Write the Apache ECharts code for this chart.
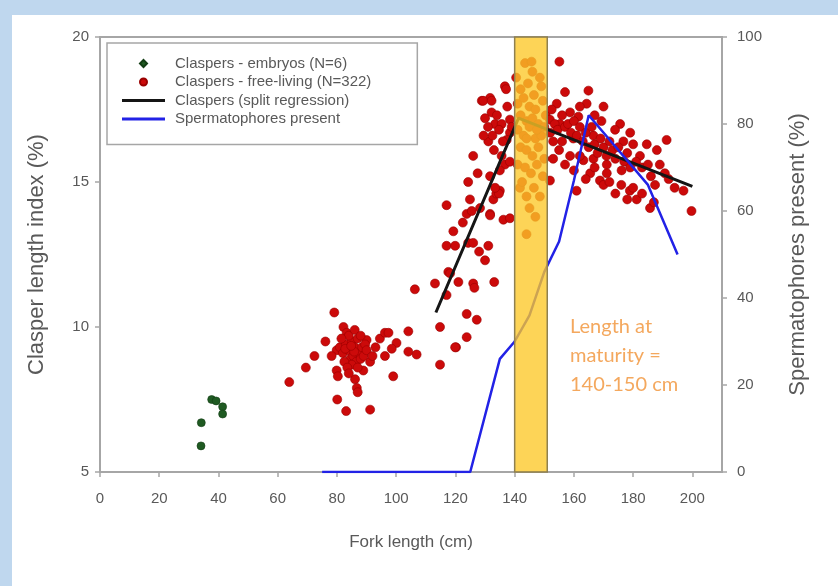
<!DOCTYPE html>
<html>
<head>
<meta charset="utf-8">
<script src="https://cdn.jsdelivr.net/npm/echarts@6/dist/echarts.min.js"></script>
<style>
  html, body { margin: 0; padding: 0; background: #bfd7ee; }
  #chart { width: 838px; height: 586px; }
</style>
</head>
<body>
<div id="chart"></div>
<script>
// fork length (cm), clasper length index (%)
var embryos = [[34.2, 6.7], [34.1, 5.9], [37.7, 7.5], [39.2, 7.45], [41.4, 7.25], [41.4, 7.0]];

var freeLiving = [
  // 60-120 cm
  [63.9, 8.1], [69.5, 8.6], [72.4, 9.0], [76.1, 9.5], [79.1, 10.5], [82.2, 10.0], [83.3, 9.8], [79.9, 9.2],
  [78.2, 9.0], [79.9, 8.5], [80.3, 8.3], [80.1, 7.5], [83.1, 7.1], [91.2, 7.15], [86.1, 8.2], [86.7, 7.9],
  [87.0, 7.75], [88.9, 8.5], [90.0, 9.55], [91.2, 8.8],
  [81, 9.3], [82, 9.1], [83, 9.4], [84, 9.2], [84.5, 8.9], [85, 9.5], [85.5, 9.0], [86, 9.3], [86.5, 8.8],
  [87, 9.6], [87.5, 9.1], [88, 8.9], [88.5, 9.3], [89, 9.0], [84, 9.7], [85, 8.7], [86, 9.9], [82.5, 8.8],
  [83.5, 8.6], [89.5, 9.4], [81.5, 9.6], [87, 8.6], [84, 8.4], [88, 9.7], [90, 9.2], [82.8, 9.25],
  [85.8, 9.15], [84.8, 9.35],
  [92, 9.0], [93, 9.3], [94.5, 9.6], [96.2, 9.8], [97.4, 9.8], [104.1, 9.85], [100.1, 9.45], [98.5, 9.25],
  [96.2, 9.0], [104.1, 9.15], [106.9, 9.05], [99.0, 8.3], [106.3, 11.3], [113.1, 11.5], [114.8, 10.0],
  [120.2, 9.3], [114.8, 8.7],
  // 113-140 cm
  [124.3, 15.0], [117.0, 14.2], [124.9, 14.4], [123.8, 13.9], [119.3, 13.3], [117.0, 12.8], [119.9, 12.8],
  [124.3, 12.9], [126.0, 12.9], [131.1, 12.8], [130.0, 12.3], [117.6, 11.9], [121.0, 11.55], [126.0, 11.5],
  [126.4, 11.35], [133.1, 11.55], [117.0, 11.1], [123.8, 10.45], [127.2, 10.25], [123.8, 9.65], [119.9, 9.3],
  [118.2, 11.85],
  [131.7, 13.9], [132.8, 14.4], [135.0, 14.7], [136.2, 13.7], [138.4, 13.75], [133.8, 14.6], [128.3, 14.1],
  [131.7, 13.85], [134.7, 14.6],
  [136.7, 18.3], [128.9, 17.8], [131.7, 17.9], [132.2, 17.4], [133.4, 17.0], [135.6, 17.0], [138.4, 17.15],
  [138.4, 16.7], [134.7, 16.8], [131.1, 16.4], [137.3, 16.45], [126.0, 15.9], [131.7, 15.2], [133.4, 14.8],
  [136.7, 15.6], [135.6, 15.9], [138.4, 15.7], [137.1, 18.2], [129.4, 17.8], [132.2, 17.8],
  [130, 17.2], [131, 16.9], [132.5, 16.6], [134, 17.3], [136, 16.4], [137.5, 17.6], [139, 16.9], [133, 16.1],
  [135, 15.4], [129.5, 16.6], [127.5, 15.3], [125.5, 14.0], [128, 12.6], [122.5, 13.6],
  // 140-151 cm
  [141.8, 14.8], [144.0, 14.5], [144.0, 13.2], [143.5, 19.1], [145.7, 19.15], [148.5, 18.6], [142, 18.2],
  [144.5, 18.4], [146.5, 18.0], [149, 18.3], [141, 17.7], [143, 17.9], [145, 17.6], [147, 17.5], [149.5, 17.8],
  [150.5, 17.3], [142, 17.3], [144, 17.1], [146, 17.2], [148, 17.0], [150, 16.9], [141, 16.8], [143, 16.6],
  [145, 16.9], [147, 16.5], [149, 16.6], [142, 16.2], [144, 16.1], [146, 15.9], [148, 16.2], [150, 15.8],
  [141, 15.6], [143.5, 15.5], [145.5, 15.3], [147.5, 15.6], [149.5, 15.2], [142.5, 15.0], [146.5, 14.8],
  [148.5, 14.5], [145, 14.1], [147, 13.8], [140.5, 18.6], [146, 18.8], [144, 16.5], [147.5, 16.8],
  // 151-200 cm
  [155.1, 19.15], [157.0, 18.1], [164.9, 18.15], [164.3, 17.7], [154.2, 17.7], [158.7, 17.4], [151.9, 17.15],
  [161.5, 17.25], [155.3, 17.0], [169.3, 17.1], [175.6, 17.0], [173.9, 16.8], [166.6, 16.6], [159.8, 16.5],
  [153.0, 16.4], [153.0, 15.8], [158.7, 15.9], [163.2, 15.75], [166.6, 15.8], [171.1, 15.6], [176.7, 16.4],
  [180.0, 16.3], [184.6, 16.3], [191.3, 16.45], [188.0, 16.1], [182.3, 15.9], [176.1, 15.4], [168.8, 15.05],
  [171.1, 15.3], [178.9, 14.7], [181.2, 14.4], [185.7, 14.1], [187.4, 14.9], [190.7, 15.3], [197.0, 14.7],
  [199.7, 14.0], [151.9, 15.05], [160.9, 14.7], [165.5, 15.3],
  [152.5, 17.5], [153.5, 17.0], [154.5, 16.8], [156, 17.3], [157, 16.9], [158, 17.0], [159, 16.7], [160, 17.1],
  [161, 16.6], [162, 16.9], [163, 16.4], [164, 16.7], [165, 16.2], [166, 16.9], [167, 16.3], [168, 16.0],
  [169, 16.5], [170, 16.2], [171, 15.9], [172, 16.4], [173, 16.1], [174, 15.8], [175, 16.2], [177, 15.7],
  [178, 16.0], [179, 15.5], [181, 15.7], [183, 15.5], [185, 15.6], [186, 15.2], [189, 15.6], [192, 15.1],
  [194, 14.8], [155, 16.1], [157, 15.6], [160, 15.4], [162, 15.9], [164, 15.1], [167, 15.5], [170, 14.9],
  [172, 15.0], [174, 14.6], [176, 14.9], [178, 14.4], [180, 14.8], [183, 14.6], [187, 14.3], [152, 16.7],
  [156, 16.4], [162, 17.6], [167, 17.3], [170, 17.6], [179, 16.7]
];

var regression = [[113.4, 10.5], [141.3, 17.2], [200, 14.85]];

var spermLength = [75, 125, 135, 140, 145, 150, 155, 160, 165, 185, 195];
var spermPct = [0, 0, 26, 30, 36, 46, 53, 67, 82, 66, 50];

var maturityBand = [140, 151];
var xTicks = { min: 0, max: 210, step: 20 };
var yLeftTicks = { min: 5, max: 20, step: 5 };
var yRightTicks = { min: 0, max: 100, step: 20 };

var axisGray = '#a6a6a6';
var textGray = '#595959';
var font = 'Liberation Sans, Arial, sans-serif';
var lineIcon = 'path://M0,0 L43,0 L43,3 L0,3 Z';

var chart = echarts.init(document.getElementById('chart'));

var option = {
  backgroundColor: '#bfd7ee',
  animation: false,
  graphic: [
    { type: 'rect', z: -10, shape: { x: 12, y: 15, width: 826, height: 571 }, style: { fill: '#ffffff' } },
    {
      type: 'text', left: 570, top: 312, z: 20,
      style: {
        text: 'Length at\nmaturity =\n140-150 cm',
        fill: '#f4a85e', font: '20px Lato, "Open Sans", sans-serif', lineHeight: 29
      }
    }
  ],
  grid: {
    left: 100, right: 116, top: 37, bottom: 114,
    show: true, borderColor: axisGray, borderWidth: 2, backgroundColor: 'transparent'
  },
  legend: {
    orient: 'vertical', left: 107, top: 43,
    backgroundColor: '#fff', borderColor: axisGray, borderWidth: 1.5,
    padding: [13, 46, 18, 15],
    itemWidth: 43, itemHeight: 7, itemGap: 3.5,
    textStyle: { fontSize: 15, color: textGray, fontFamily: font, padding: [0, 0, 0, 5] },
    data: [
      { name: 'Claspers - embryos (N=6)', icon: 'path://M5,0 L10,5 L5,10 L0,5 Z' },
      { name: 'Claspers - free-living (N=322)', icon: 'circle' },
      { name: 'Claspers (split regression)', icon: lineIcon },
      { name: 'Spermatophores present', icon: lineIcon }
    ]
  },
  xAxis: {
    type: 'value', min: xTicks.min, max: xTicks.max, interval: xTicks.step,
    name: 'Fork length (cm)', nameLocation: 'middle', nameGap: 62,
    nameTextStyle: { fontSize: 17, color: textGray, fontFamily: font },
    axisLine: { lineStyle: { color: axisGray, width: 2 } },
    axisTick: { length: 5, lineStyle: { color: axisGray, width: 1.5 } },
    axisLabel: { margin: 19, fontSize: 15, color: textGray, fontFamily: font, showMaxLabel: false },
    splitLine: { show: false }
  },
  yAxis: [
    {
      type: 'value', min: yLeftTicks.min, max: yLeftTicks.max, interval: yLeftTicks.step,
      name: 'Clasper length index (%)', nameLocation: 'middle', nameGap: 52,
      nameTextStyle: { fontSize: 22, color: textGray, fontFamily: font },
      axisLine: { show: true, lineStyle: { color: axisGray, width: 2 } },
      axisTick: { show: true, length: 5, lineStyle: { color: axisGray, width: 1.5 } },
      axisLabel: { margin: 11, fontSize: 15, color: textGray, fontFamily: font },
      splitLine: { show: false }
    },
    {
      type: 'value', position: 'right',
      min: yRightTicks.min, max: yRightTicks.max, interval: yRightTicks.step,
      name: 'Spermatophores present (%)', nameLocation: 'middle', nameGap: 65,
      nameTextStyle: { fontSize: 22, color: textGray, fontFamily: font },
      axisLine: { show: true, lineStyle: { color: axisGray, width: 2 } },
      axisTick: { show: true, length: 5, lineStyle: { color: axisGray, width: 1.5 } },
      axisLabel: { margin: 15, fontSize: 15, color: textGray, fontFamily: font },
      splitLine: { show: false }
    }
  ],
  series: [
    {
      name: 'Claspers - free-living (N=322)', type: 'scatter', z: 2,
      symbolSize: 9, data: freeLiving,
      itemStyle: { color: '#cc0a0a', borderColor: '#9a0000', borderWidth: 0.6, opacity: 1 }
    },
    {
      name: 'Claspers - embryos (N=6)', type: 'scatter', z: 2,
      symbolSize: 8, data: embryos,
      itemStyle: { color: '#1f5a22', borderColor: '#123d14', borderWidth: 0.6, opacity: 1 }
    },
    {
      name: 'Claspers (split regression)', type: 'line', z: 3,
      data: regression, showSymbol: false, symbol: 'none',
      lineStyle: { color: '#151515', width: 3 }, itemStyle: { color: '#151515' }
    },
    {
      name: 'Spermatophores present', type: 'line', yAxisIndex: 1, z: 3,
      data: spermLength.map(function (x, i) { return [x, spermPct[i]]; }),
      showSymbol: false, symbol: 'none',
      lineStyle: { color: '#2222e6', width: 2.5 }, itemStyle: { color: '#2222e6' }
    },
    {
      name: 'band', type: 'scatter', data: [], z: 10,
      markArea: {
        silent: true, z: 10,
        itemStyle: { color: 'rgba(252, 200, 40, 0.78)', borderColor: '#8f8050', borderWidth: 1.5 },
        data: [[{ xAxis: maturityBand[0] }, { xAxis: maturityBand[1] }]]
      }
    }
  ]
};

chart.setOption(option);
</script>
</body>
</html>
